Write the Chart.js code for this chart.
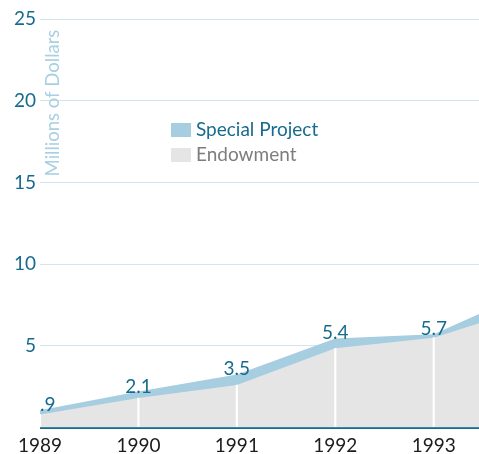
<!DOCTYPE html>
<html>
<head>
<meta charset="utf-8">
<script src="https://cdn.jsdelivr.net/npm/chart.js@4.4.1/dist/chart.umd.min.js"></script>
<style>
  html, body { margin: 0; padding: 0; background: #fff; }
  #wrap { width: 479px; height: 454px; position: relative; overflow: hidden; }
</style>
</head>
<body>
<div id="wrap"><canvas id="chart" width="479" height="454"></canvas></div>
<script>
// data
const years = [1989, 1990, 1991, 1992, 1993, 1994];
const totals = [1.05, 2.2, 3.25, 5.45, 5.7, 8.4];      // top of blue band
const endowment = [0.8, 1.8, 2.6, 4.85, 5.5, 7.4];     // top of grey area
const pointLabels = ['.9', '2.1', '3.5', '5.4', '5.7'];
const yTicks = [0, 5, 10, 15, 20, 25];

const teal = '#176b8f';
const blue = '#a7cde0';
const grey = '#e5e5e5';
const font = 'Lato, "Open Sans", sans-serif';

const totalPoints = years.map((y, i) => ({ x: y, y: totals[i] }));
const endowPoints = years.map((y, i) => ({ x: y, y: endowment[i] }));

// value labels, axis title and legend drawn on top
const overlayPlugin = {
    id: 'overlay',
    afterDatasetsDraw(chart) {
        const ctx = chart.ctx;
        const area = chart.chartArea;
        const meta = chart.getDatasetMeta(0);
        ctx.save();
        ctx.font = '19px ' + font;
        ctx.fillStyle = teal;
        ctx.textAlign = 'center';
        ctx.textBaseline = 'alphabetic';
        pointLabels.forEach((txt, i) => {
            const pt = meta.data[i];
            const w = ctx.measureText(txt).width;
            const x = Math.max(pt.x, area.left + w / 2);
            ctx.fillText(txt, x, pt.y + 1);
        });

        // y axis title
        ctx.save();
        ctx.translate(area.left + 13, area.top + 84);
        ctx.rotate(-Math.PI / 2);
        ctx.font = '18.5px ' + font;
        ctx.fillStyle = '#a9cfe2';
        ctx.textAlign = 'center';
        ctx.textBaseline = 'middle';
        ctx.fillText('Millions of Dollars', 0, 0);
        ctx.restore();

        // legend
        const lx = 171, ly = 123;
        ctx.fillStyle = blue;
        ctx.fillRect(lx, ly, 20, 14);
        ctx.fillStyle = grey;
        ctx.fillRect(lx, ly + 25, 20, 14);
        ctx.font = '19px ' + font;
        ctx.textAlign = 'left';
        ctx.fillStyle = teal;
        ctx.fillText('Special Project', lx + 25, ly + 13);
        ctx.fillStyle = '#7d7d7d';
        ctx.fillText('Endowment', lx + 25, ly + 38);
        ctx.restore();
    }
};

new Chart(document.getElementById('chart').getContext('2d'), {
    type: 'line',
    data: {
        datasets: [
            {
                label: 'Special Project',
                data: totalPoints,
                backgroundColor: blue,
                borderWidth: 0,
                pointRadius: 0,
                tension: 0,
                fill: 'origin',
                order: 3
            },
            {
                label: 'Endowment',
                data: endowPoints,
                backgroundColor: grey,
                borderWidth: 0,
                pointRadius: 0,
                tension: 0,
                fill: 'origin',
                order: 2
            },
            {
                type: 'bar',
                label: 'year marks',
                data: endowPoints,
                backgroundColor: '#ffffff',
                barThickness: 1.5,
                order: 1
            }
        ]
    },
    options: {
        responsive: false,
        animation: false,
        layout: { padding: { top: 19, left: 0, right: 0, bottom: 0 } },
        plugins: { legend: { display: false }, tooltip: { enabled: false } },
        scales: {
            x: {
                type: 'linear',
                min: 1989,
                max: 1993.46,
                offset: false,
                grid: { display: false, offset: false },
                border: { display: false },
                ticks: {
                    stepSize: 1,
                    includeBounds: false,
                    padding: -1,
                    color: '#1c1c1c',
                    font: { family: font, size: 19 },
                    callback: v => String(v)
                },
                afterFit: s => { s.height = 26.5; }
            },
            y: {
                min: 0,
                max: 25,
                afterBuildTicks: s => { s.ticks = yTicks.map(v => ({ value: v })); },
                border: { display: false },
                grid: {
                    drawTicks: false,
                    color: c => c.tick && c.tick.value === 0 ? teal : '#d3e5ee',
                    lineWidth: c => c.tick && c.tick.value === 0 ? 2 : 1
                },
                ticks: {
                    padding: 4,
                    color: teal,
                    font: { family: font, size: 19 },
                    callback: v => v === 0 ? '' : String(v)
                },
                afterFit: s => { s.width = 40; }
            }
        }
    },
    plugins: [overlayPlugin]
});
</script>
</body>
</html>
